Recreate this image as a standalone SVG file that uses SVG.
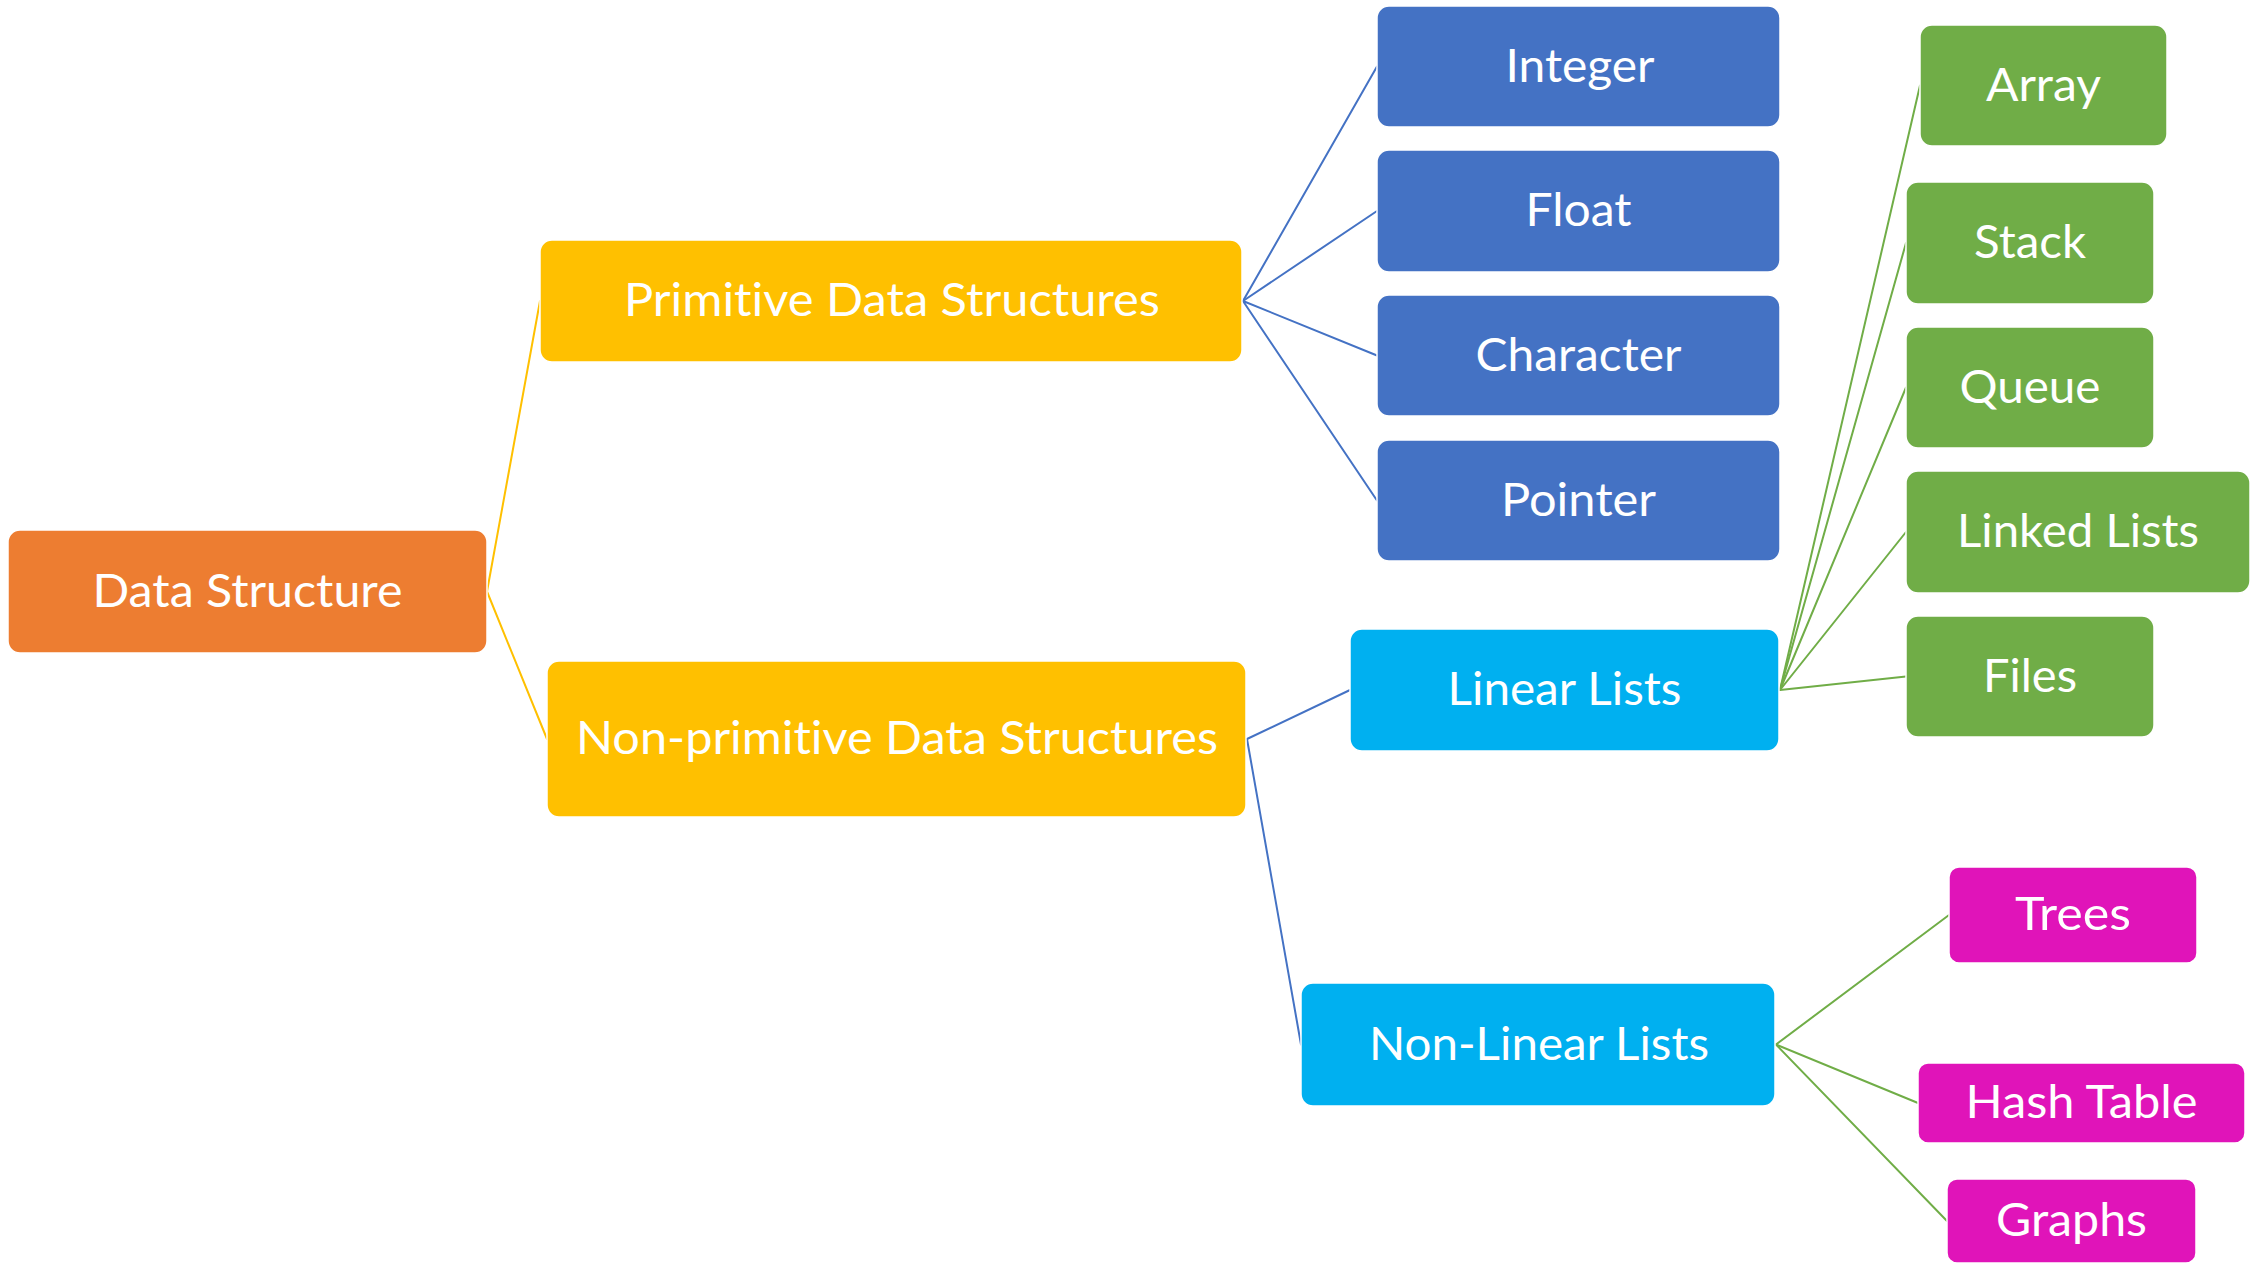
<svg xmlns="http://www.w3.org/2000/svg" width="2267" height="1265" viewBox="0 0 2267 1265">
  <style>
    .box { stroke: #ffffff; stroke-width: 1.5; }
    .root { fill: #ED7D31; }
    .l1 { fill: #FFC000; }
    .prim { fill: #4472C4; }
    .l2 { fill: #00B0F0; }
    .lin { fill: #70AD47; }
    .nonlin { fill: #E014B9; }
    .label { font-family: Lato, "Open Sans", "Liberation Sans", sans-serif; font-size: 46px; fill: #ffffff; text-anchor: middle; font-variant-ligatures: none; font-feature-settings: "liga" 0, "clig" 0; }
    .edge { fill: none; stroke-width: 2; stroke-linecap: round; }
    .gold { stroke: #FFC000; }
    .blue { stroke: #4472C4; }
    .green { stroke: #70AD47; }
  </style>
  <rect width="2267" height="1265" fill="#ffffff"/>

  <g id="connectors">
    <path class="edge gold" d="M487 591.5 L540 301"/>
    <path class="edge gold" d="M487 591.5 L547 739"/>
    <path class="edge blue" d="M1243 301 L1377 66.5"/>
    <path class="edge blue" d="M1243 301 L1377 211"/>
    <path class="edge blue" d="M1243 301 L1377 355.5"/>
    <path class="edge blue" d="M1243 301 L1377 500.5"/>
    <path class="edge blue" d="M1247 739 L1350 690"/>
    <path class="edge blue" d="M1247 739 L1301 1044.5"/>
    <path class="edge green" d="M1780 690 L1920 85.5"/>
    <path class="edge green" d="M1780 690 L1906 243"/>
    <path class="edge green" d="M1780 690 L1906 387.5"/>
    <path class="edge green" d="M1780 690 L1906 532"/>
    <path class="edge green" d="M1780 690 L1906 676.5"/>
    <path class="edge green" d="M1776 1044.5 L1949 915"/>
    <path class="edge green" d="M1776 1044.5 L1918 1103"/>
    <path class="edge green" d="M1776 1044.5 L1947 1221"/>
  </g>

  <g id="data-structure">
    <rect class="box root" x="8" y="530" width="479" height="123" rx="12"/>
    <text class="label" x="247.5" y="606.5" textLength="310" lengthAdjust="spacingAndGlyphs">Data Structure</text>
  </g>
  <g id="primitive">
    <rect class="box l1" x="540" y="240" width="702" height="122" rx="12"/>
    <text class="label" x="892" y="316" textLength="536" lengthAdjust="spacingAndGlyphs">Primitive Data Structures</text>
  </g>
  <g id="non-primitive">
    <rect class="box l1" x="547" y="661" width="699" height="156" rx="12"/>
    <text class="label" x="897" y="754" textLength="642" lengthAdjust="spacingAndGlyphs">Non-primitive Data Structures</text>
  </g>

  <g id="integer">
    <rect class="box prim" x="1377" y="6" width="403" height="121" rx="12"/>
    <text class="label" x="1580" y="82" textLength="149" lengthAdjust="spacingAndGlyphs">Integer</text>
  </g>
  <g id="float">
    <rect class="box prim" x="1377" y="150" width="403" height="122" rx="12"/>
    <text class="label" x="1578.5" y="226" textLength="106" lengthAdjust="spacingAndGlyphs">Float</text>
  </g>
  <g id="character">
    <rect class="box prim" x="1377" y="295" width="403" height="121" rx="12"/>
    <text class="label" x="1578.5" y="370.5" textLength="206" lengthAdjust="spacingAndGlyphs">Character</text>
  </g>
  <g id="pointer">
    <rect class="box prim" x="1377" y="440" width="403" height="121" rx="12"/>
    <text class="label" x="1578.5" y="515.5" textLength="155" lengthAdjust="spacingAndGlyphs">Pointer</text>
  </g>

  <g id="linear-lists">
    <rect class="box l2" x="1350" y="629" width="429" height="122" rx="12"/>
    <text class="label" x="1564.5" y="705" textLength="234" lengthAdjust="spacingAndGlyphs">Linear Lists</text>
  </g>
  <g id="non-linear-lists">
    <rect class="box l2" x="1301" y="983" width="474" height="123" rx="12"/>
    <text class="label" x="1539" y="1059.5" textLength="340" lengthAdjust="spacingAndGlyphs">Non-Linear Lists</text>
  </g>

  <g id="array">
    <rect class="box lin" x="1920" y="25" width="247" height="121" rx="12"/>
    <text class="label" x="2043.5" y="100.5" textLength="115" lengthAdjust="spacingAndGlyphs">Array</text>
  </g>
  <g id="stack">
    <rect class="box lin" x="1906" y="182" width="248" height="122" rx="12"/>
    <text class="label" x="2030" y="258" textLength="112" lengthAdjust="spacingAndGlyphs">Stack</text>
  </g>
  <g id="queue">
    <rect class="box lin" x="1906" y="327" width="248" height="121" rx="12"/>
    <text class="label" x="2030" y="402.5" textLength="141" lengthAdjust="spacingAndGlyphs">Queue</text>
  </g>
  <g id="linked-lists">
    <rect class="box lin" x="1906" y="471" width="344" height="122" rx="12"/>
    <text class="label" x="2078" y="547" textLength="242" lengthAdjust="spacingAndGlyphs">Linked Lists</text>
  </g>
  <g id="files">
    <rect class="box lin" x="1906" y="616" width="248" height="121" rx="12"/>
    <text class="label" x="2030" y="691.5" textLength="94" lengthAdjust="spacingAndGlyphs">Files</text>
  </g>

  <g id="trees">
    <rect class="box nonlin" x="1949" y="867" width="248" height="96" rx="10"/>
    <text class="label" x="2073" y="930" textLength="116" lengthAdjust="spacingAndGlyphs">Trees</text>
  </g>
  <g id="hash-table">
    <rect class="box nonlin" x="1918" y="1063" width="327" height="80" rx="10"/>
    <text class="label" x="2081.5" y="1118" textLength="232" lengthAdjust="spacingAndGlyphs">Hash Table</text>
  </g>
  <g id="graphs">
    <rect class="box nonlin" x="1947" y="1179" width="249" height="84" rx="10"/>
    <text class="label" x="2071.5" y="1236" textLength="151" lengthAdjust="spacingAndGlyphs">Graphs</text>
  </g>
</svg>
